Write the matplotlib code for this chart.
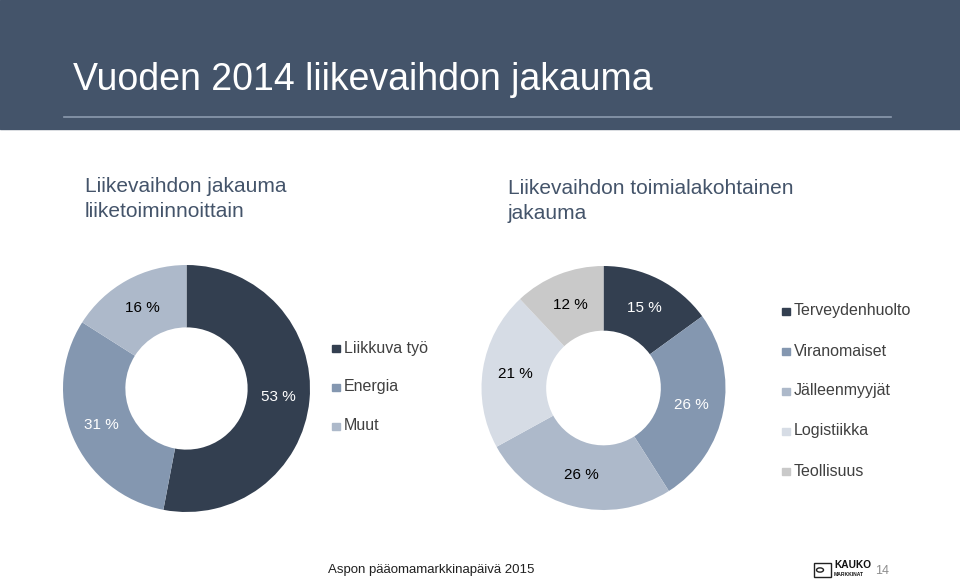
import matplotlib.pyplot as plt
from matplotlib.patches import Rectangle, Circle

plt.rcParams['font.family'] = ['Liberation Sans', 'DejaVu Sans']

# Tiedot
liiketoiminnot = ['Liikkuva työ', 'Energia', 'Muut']
liiketoiminnot_pct = [53, 31, 16]
liiketoiminnot_varit = ['#333F50', '#8497B0', '#ADB9CA']
liiketoiminnot_tekstivari = ['white', 'white', 'black']

toimialat = ['Terveydenhuolto', 'Viranomaiset', 'Jälleenmyyjät', 'Logistiikka', 'Teollisuus']
toimialat_pct = [15, 26, 26, 21, 12]
toimialat_varit = ['#333F50', '#8497B0', '#ADB9CA', '#D6DCE5', '#C9C9C9']
toimialat_tekstivari = ['white', 'white', 'black', 'black', 'black']

W, H = 960, 581
fig = plt.figure(figsize=(W / 100, H / 100), dpi=100)


def fx(x):
    return x / W


def fy(y):
    return 1 - y / H


# Otsikkopalkki
fig.patches.append(Rectangle((0, fy(129)), 1, 129 / H, transform=fig.transFigure,
                             color='#44546A', zorder=0))
fig.lines.append(plt.Line2D([fx(64), fx(891)], [fy(117), fy(117)], transform=fig.transFigure,
                            color='#8C9AAE', lw=1.2))
fig.text(fx(73), fy(80), 'Vuoden 2014 liikevaihdon jakauma', color='white',
         fontsize=27, va='center', ha='left')

# Alaotsikot
fig.text(fx(85), fy(199), 'Liikevaihdon jakauma\nliiketoiminnoittain', color='#44546A',
         fontsize=15, va='center', ha='left', linespacing=1.4)
fig.text(fx(508), fy(201), 'Liikevaihdon toimialakohtainen\njakauma', color='#44546A',
         fontsize=15, va='center', ha='left', linespacing=1.4)


def donitsi(cx, cy, r, arvot, varit, tekstivarit, leveys):
    ax = fig.add_axes([fx(cx - r), fy(cy + r), 2 * r / W, 2 * r / H])
    wedges, nimet, tekstit = ax.pie(arvot, colors=varit, startangle=90, counterclock=False,
                                    wedgeprops=dict(width=leveys, linewidth=0),
                                    autopct=lambda p: f'{p:.0f} %',
                                    pctdistance=1 - leveys / 2)
    for t, c in zip(tekstit, tekstivarit):
        t.set_color(c)
        t.set_fontsize(11)
    ax.set_xlim(-1, 1)
    ax.set_ylim(-1, 1)
    ax.set_aspect('equal')
    ax.axis('off')
    return ax


donitsi(186.5, 388.5, 123.5, liiketoiminnot_pct, liiketoiminnot_varit,
        liiketoiminnot_tekstivari, 0.505)
donitsi(603.5, 388, 122, toimialat_pct, toimialat_varit, toimialat_tekstivari, 0.53)


def selite(x, ylist, nimet, varit):
    for y, nimi, vari in zip(ylist, nimet, varit):
        fig.patches.append(Rectangle((fx(x), fy(y + 4)), 7.5 / W, 7.5 / H,
                                     transform=fig.transFigure, color=vari))
        fig.text(fx(x + 11.5), fy(y), nimi, color='#404040', fontsize=11.5,
                 va='center', ha='left')


selite(332, [348, 387, 426], liiketoiminnot, liiketoiminnot_varit)
selite(782, [311, 351, 391, 431, 471], toimialat, toimialat_varit)

# Alatunniste
fig.text(fx(328), fy(570), 'Aspon pääomamarkkinapäivä 2015', color='#202020',
         fontsize=9.5, va='center', ha='left')
fig.text(fx(875), fy(571), '14', color='#8C8C8C', fontsize=9, va='center', ha='left')

# Logo
fig.patches.append(Rectangle((fx(814), fy(577)), 17 / W, 14 / H, transform=fig.transFigure,
                             fill=False, ec='#222222', lw=1))
fig.patches.append(Circle((fx(820), fy(570)), 3.5 / W, transform=fig.transFigure,
                          fill=False, ec='#222222', lw=1))
fig.text(fx(834), fy(565), 'KAUKO', color='#111111', fontsize=7.3, fontweight='bold',
         va='center', ha='left')
fig.text(fx(834), fy(575), 'MARKKINAT', color='#111111', fontsize=3.6, fontweight='bold',
         va='center', ha='left')

fig.savefig('out.png', dpi=100)
